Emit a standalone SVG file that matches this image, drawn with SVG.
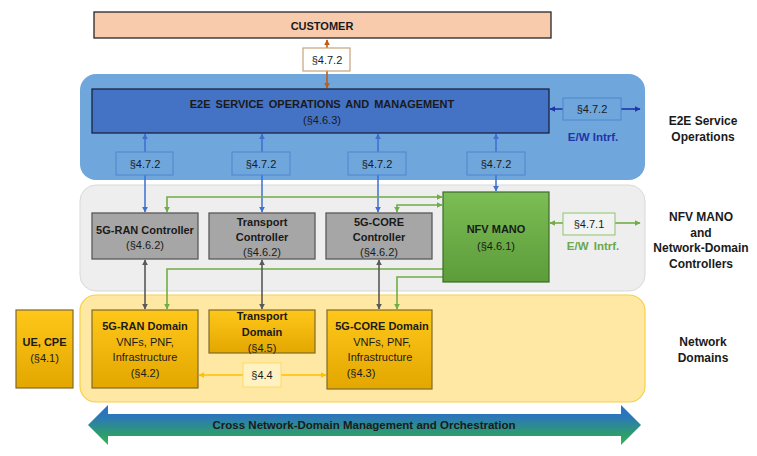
<svg xmlns="http://www.w3.org/2000/svg" width="757" height="456" viewBox="0 0 757 456">
<defs>
<style>
text{font-family:"Liberation Sans",Arial,sans-serif;font-size:11px;fill:#1a1a1a;text-anchor:middle}
.b{font-weight:bold}
.lbl{font-weight:bold;font-size:12px}
.ctl{fill:#a6a6a6;stroke:#595959;stroke-width:1.3}
.dom{fill:url(#gold);stroke:#7f6a2a;stroke-width:1.2}
.bluebox{fill:#6fa6db;stroke:#4f86d0;stroke-width:1}
.blue{stroke:#3d6fd0;stroke-width:1.5;fill:none}
.green{stroke:#70ad47;stroke-width:1.6;fill:none}
.gray{stroke:#595959;stroke-width:1.6;fill:none}
.navy{stroke:#1f35a8;stroke-width:1.6;fill:none}
.orange{stroke:#c55a11;stroke-width:1.6;fill:none}
.yel{stroke:#ffc000;stroke-width:1.6;fill:none}
</style>
<linearGradient id="gold" x1="0" y1="0" x2="0" y2="1"><stop offset="0" stop-color="#ffc71a"/><stop offset="1" stop-color="#e3a700"/></linearGradient>
<linearGradient id="mano" x1="0" y1="0" x2="0" y2="1"><stop offset="0" stop-color="#7cbd55"/><stop offset="1" stop-color="#5c9c3a"/></linearGradient>
<linearGradient id="bigarrow" x1="0" y1="0" x2="0" y2="1"><stop offset="0" stop-color="#2a6fc4"/><stop offset="0.3" stop-color="#2b78b8"/><stop offset="0.75" stop-color="#2e9e6a"/><stop offset="1" stop-color="#3ab05a"/></linearGradient>
<marker id="aB" viewBox="0 0 10 10" refX="9" refY="5" markerWidth="6" markerHeight="6" orient="auto-start-reverse" markerUnits="userSpaceOnUse"><path d="M0,0L10,5L0,10z" fill="#3d6fd0"/></marker>
<marker id="aG" viewBox="0 0 10 10" refX="9" refY="5" markerWidth="6" markerHeight="6" orient="auto-start-reverse" markerUnits="userSpaceOnUse"><path d="M0,0L10,5L0,10z" fill="#70ad47"/></marker>
<marker id="aK" viewBox="0 0 10 10" refX="9" refY="5" markerWidth="6" markerHeight="6" orient="auto-start-reverse" markerUnits="userSpaceOnUse"><path d="M0,0L10,5L0,10z" fill="#595959"/></marker>
<marker id="aN" viewBox="0 0 10 10" refX="9" refY="5" markerWidth="6" markerHeight="6" orient="auto-start-reverse" markerUnits="userSpaceOnUse"><path d="M0,0L10,5L0,10z" fill="#1f35a8"/></marker>
<marker id="aO" viewBox="0 0 10 10" refX="9" refY="5" markerWidth="6" markerHeight="6" orient="auto-start-reverse" markerUnits="userSpaceOnUse"><path d="M0,0L10,5L0,10z" fill="#c55a11"/></marker>
<marker id="aY" viewBox="0 0 10 10" refX="9" refY="5" markerWidth="6" markerHeight="6" orient="auto-start-reverse" markerUnits="userSpaceOnUse"><path d="M0,0L10,5L0,10z" fill="#ffc000"/></marker>
</defs>
<rect width="757" height="456" fill="#ffffff"/>

<!-- layer backgrounds -->
<g id="layer-e2e">
<rect x="80" y="74" width="565" height="106" rx="16" fill="#6fa6db"/>
<text class="lbl" x="703" y="125">E2E Service</text>
<text class="lbl" x="703" y="141">Operations</text>
</g>
<g id="layer-nfv">
<rect x="80" y="185" width="565" height="106" rx="16" fill="#eeeeee" stroke="#d9d9d9"/>
<text class="lbl" x="701" y="221">NFV MANO</text>
<text class="lbl" x="701" y="237">and</text>
<text class="lbl" x="701" y="252">Network-Domain</text>
<text class="lbl" x="701" y="268">Controllers</text>
</g>
<g id="layer-domains">
<rect x="80" y="295" width="565" height="107" rx="16" fill="#ffe8a3" stroke="#f7cf4a" stroke-width="1.2"/>
<text class="lbl" x="703" y="346">Network</text>
<text class="lbl" x="703" y="362">Domains</text>
</g>

<!-- connectors -->
<g id="connectors">
<line class="orange" x1="327" y1="40" x2="327" y2="88" marker-start="url(#aO)" marker-end="url(#aO)"/>
<line class="blue" x1="145" y1="134" x2="145" y2="212" marker-start="url(#aB)" marker-end="url(#aB)"/>
<line class="blue" x1="262" y1="134" x2="262" y2="212" marker-start="url(#aB)" marker-end="url(#aB)"/>
<line class="blue" x1="378" y1="134" x2="378" y2="212" marker-start="url(#aB)" marker-end="url(#aB)"/>
<line class="blue" x1="496" y1="134" x2="496" y2="191" marker-start="url(#aB)" marker-end="url(#aB)"/>
<line class="navy" x1="550" y1="109" x2="563" y2="109" marker-start="url(#aN)"/>
<line class="navy" x1="621" y1="109" x2="640" y2="109" marker-end="url(#aN)"/>
<line class="green" x1="550" y1="223" x2="563" y2="223" marker-start="url(#aG)"/>
<line class="green" x1="615" y1="223" x2="640" y2="223" marker-end="url(#aG)"/>
<polyline class="green" points="442,197 167,197 167,212" marker-start="url(#aG)" marker-end="url(#aG)"/>
<polyline class="green" points="442,205 397,205 397,212" marker-start="url(#aG)" marker-end="url(#aG)"/>
<polyline class="green" points="443,269 167,269 167,309" marker-end="url(#aG)"/>
<polyline class="green" points="443,277 397,277 397,309" marker-end="url(#aG)"/>
<line class="gray" x1="145" y1="260" x2="145" y2="309" marker-start="url(#aK)" marker-end="url(#aK)"/>
<line class="gray" x1="262" y1="260" x2="262" y2="309" marker-start="url(#aK)" marker-end="url(#aK)"/>
<line class="gray" x1="379" y1="260" x2="379" y2="309" marker-start="url(#aK)" marker-end="url(#aK)"/>
<line class="yel" x1="199" y1="375" x2="243" y2="375" marker-start="url(#aY)"/>
<line class="yel" x1="281" y1="375" x2="326" y2="375" marker-end="url(#aY)"/>
</g>

<!-- nodes -->
<g id="customer">
<rect x="94" y="12" width="457" height="26" fill="#f8cbad" stroke="#262626" stroke-width="1.3"/>
<text class="b" x="322" y="30">CUSTOMER</text>
</g>
<g id="if-customer">
<rect x="303" y="48" width="47" height="23" fill="#ffffff" stroke="#c9a27c" stroke-width="1.2"/>
<text x="327" y="63.5">§4.7.2</text>
</g>
<g id="e2e-som">
<rect x="92" y="89" width="457" height="44" fill="#4472c4" stroke="#1a2440" stroke-width="1.3"/>
<text class="b" x="322" y="108" style="word-spacing:2px">E2E SERVICE OPERATIONS AND MANAGEMENT</text>
<text x="322" y="124">(§4.6.3)</text>
</g>
<g id="if-ew-e2e">
<rect x="563" y="98" width="58" height="22" class="bluebox"/>
<text x="592" y="113">§4.7.2</text>
<text class="b" x="593" y="141" style="fill:#1f35a8;font-size:11.5px">E/W Intrf.</text>
</g>
<g id="if-ran">
<rect x="116" y="152" width="57" height="23" class="bluebox"/>
<text x="145" y="167.5">§4.7.2</text>
</g>
<g id="if-transport">
<rect x="232" y="152" width="58" height="23" class="bluebox"/>
<text x="261" y="167.5">§4.7.2</text>
</g>
<g id="if-core">
<rect x="348" y="152" width="58" height="23" class="bluebox"/>
<text x="377" y="167.5">§4.7.2</text>
</g>
<g id="if-mano">
<rect x="467" y="152" width="58" height="23" class="bluebox"/>
<text x="496" y="167.5">§4.7.2</text>
</g>
<g id="ran-controller">
<rect x="92" y="213" width="106" height="46" class="ctl"/>
<text class="b" x="145" y="234">5G-RAN Controller</text>
<text x="145" y="249">(§4.6.2)</text>
</g>
<g id="transport-controller">
<rect x="209" y="213" width="106" height="46" class="ctl"/>
<text class="b" x="262" y="226">Transport</text>
<text class="b" x="262" y="241">Controller</text>
<text x="262" y="256">(§4.6.2)</text>
</g>
<g id="core-controller">
<rect x="326" y="213" width="106" height="46" class="ctl"/>
<text class="b" x="379" y="226">5G-CORE</text>
<text class="b" x="379" y="241">Controller</text>
<text x="379" y="256">(§4.6.2)</text>
</g>
<g id="nfv-mano">
<rect x="443" y="192" width="106" height="90" fill="url(#mano)" stroke="#3d6b27" stroke-width="1.2"/>
<text class="b" x="496" y="233">NFV MANO</text>
<text x="496" y="250">(§4.6.1)</text>
</g>
<g id="if-ew-mano">
<rect x="563" y="213" width="52" height="22" fill="#f2f2f2" stroke="#8cc56a" stroke-width="1"/>
<text x="589" y="228">§4.7.1</text>
<text class="b" x="593" y="250" style="fill:#6aa84f;word-spacing:2px;font-size:11.5px">E/W Intrf.</text>
</g>
<g id="ue-cpe">
<rect x="16" y="310" width="57" height="78" class="dom"/>
<text class="b" x="44.5" y="346">UE, CPE</text>
<text x="44.5" y="362">(§4.1)</text>
</g>
<g id="ran-domain">
<rect x="92" y="310" width="106" height="78" class="dom"/>
<text class="b" x="145" y="330">5G-RAN Domain</text>
<text x="145" y="346">VNFs, PNF,</text>
<text x="145" y="361">Infrastructure</text>
<text x="145" y="377">(§4.2)</text>
</g>
<g id="transport-domain">
<rect x="209" y="310" width="106" height="43" class="dom"/>
<text class="b" x="262" y="320">Transport</text>
<text class="b" x="262" y="336">Domain</text>
<text x="262" y="352">(§4.5)</text>
</g>
<g id="core-domain">
<rect x="327" y="310" width="105" height="79" class="dom"/>
<text class="b" x="382" y="330">5G-CORE Domain</text>
<text x="382" y="346">VNFs, PNF,</text>
<text x="380" y="361">Infrastructure</text>
<text x="361" y="377">(§4.3)</text>
</g>
<g id="if-44">
<rect x="243" y="363" width="38" height="24" fill="#fff2c2" stroke="#ffd966" stroke-width="1"/>
<text x="262" y="379">§4.4</text>
</g>
<g id="cross-domain">
<polygon points="88,425 108,405 108,414 621,414 621,405 641,425 621,445 621,436 108,436 108,445" fill="url(#bigarrow)"/>
<text class="b" x="364" y="429" style="font-size:11.5px">Cross Network-Domain Management and Orchestration</text>
</g>
</svg>
